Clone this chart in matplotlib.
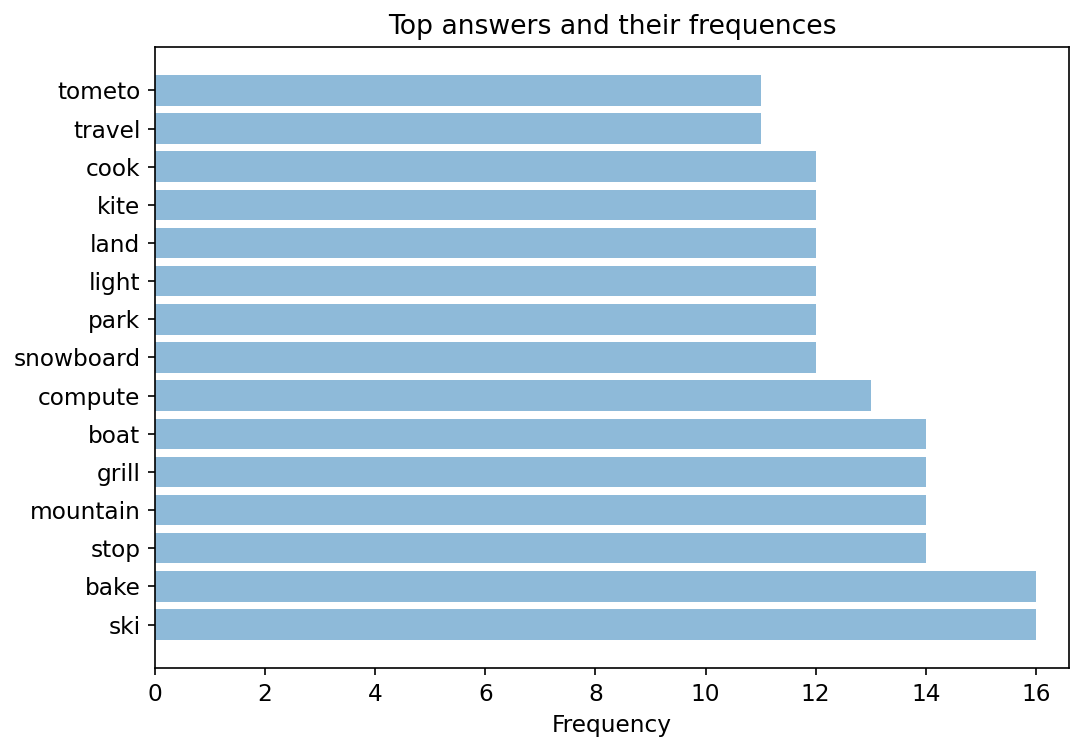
import numpy as np
import matplotlib
matplotlib.use("Agg")
import matplotlib.pyplot as plt

# Respuestas y frecuencias (de abajo hacia arriba)
answers = ['ski', 'bake', 'stop', 'mountain', 'grill', 'boat', 'compute',
           'snowboard', 'park', 'light', 'land', 'kite', 'cook', 'travel', 'tometo']
frequency = [16, 16, 14, 14, 14, 14, 13, 12, 12, 12, 12, 12, 12, 11, 11]

dpi = 150
fig, ax = plt.subplots(figsize=(1071 / dpi, 742 / dpi), dpi=dpi)
fig.subplots_adjust(left=0.1447, right=0.998, top=0.9367, bottom=0.0997)

y_pos = np.arange(len(answers))
ax.barh(y_pos, frequency, align='center', alpha=0.5)
ax.set_yticks(y_pos)
ax.set_yticklabels(answers, fontsize=11.2)
ax.tick_params(axis='x', labelsize=11.2)
ax.set_xlim(0, 16.6)
ax.set_xticks(np.arange(0, 17, 2))

ax.set_xlabel('Frequency', fontsize=11.2)
ax.set_title('Top answers and their frequences', fontsize=12.8)

fig.savefig('out.png', dpi=dpi)
